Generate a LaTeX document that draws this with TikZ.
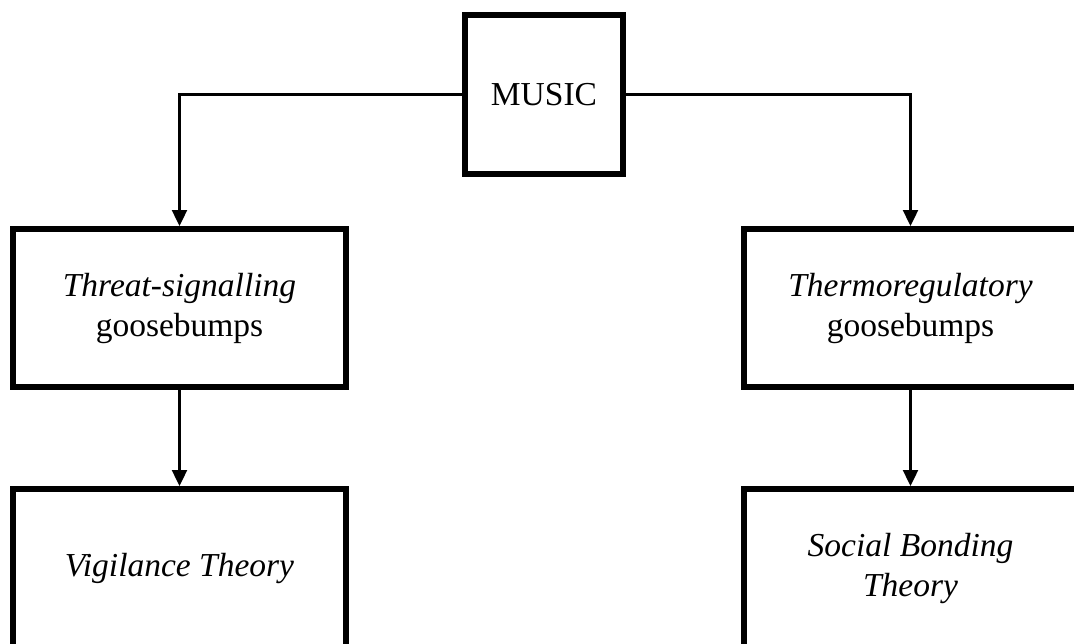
\documentclass[tikz,border=0pt]{standalone}
\usepackage{fontspec}
\setmainfont{Liberation Serif}
\usetikzlibrary{arrows.meta}
\begin{document}
\begin{tikzpicture}[x=1pt,y=-1pt,
  boxnode/.style={draw=black, line width=6pt, align=center, inner sep=0pt,
     font=\fontsize{33.5}{40}\selectfont},
  conn/.style={line width=2.4pt, -{Triangle[length=16pt,width=15pt]}}]
\useasboundingbox (0,0) rectangle (1074,643);
\clip (0,0) rectangle (1074,643);
\fill[white] (0,0) rectangle (1074,643);
\node[boxnode, minimum width=158pt, minimum height=159pt] (music) at (544,94.5) {MUSIC};
\node[boxnode, minimum width=333pt, minimum height=158pt] (threat) at (179.5,308) {\textit{Threat-signalling}\\goosebumps};
\node[boxnode, minimum width=333pt, minimum height=158pt] (thermo) at (910.5,308) {\textit{Thermoregulatory}\\goosebumps};
\node[boxnode, minimum width=333pt, minimum height=158pt] (vig) at (179.5,568) {\textit{Vigilance Theory}};
\node[boxnode, minimum width=333pt, minimum height=158pt] (soc) at (910.5,568) {\textit{Social Bonding}\\\textit{Theory}};
\draw[conn] (music.west) -| (threat.north);
\draw[conn] (music.east) -| (thermo.north);
\draw[conn] (threat.south) -- (vig.north);
\draw[conn] (thermo.south) -- (soc.north);
\end{tikzpicture}
\end{document}
